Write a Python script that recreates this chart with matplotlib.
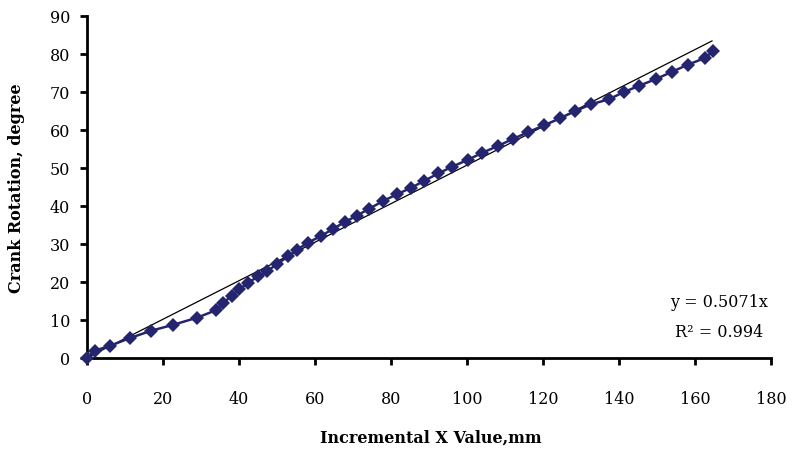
import matplotlib.pyplot as plt
import numpy as np

# valores
x_mm = [0, 2.1, 6.2, 11.3, 16.8, 22.7, 29.1, 34.1, 35.9, 38.1, 40.1, 42.4, 45.1, 47.4,
        50.1, 52.9, 55.4, 58.1, 61.5, 64.7, 67.8, 71.0, 74.2, 77.8, 81.5, 85.2, 88.8,
        92.4, 96.1, 100.2, 103.9, 108.0, 112.1, 116.1, 120.3, 124.4, 128.4, 132.6,
        137.2, 141.2, 145.3, 149.8, 154.0, 158.0, 162.6, 164.7]
crank_deg = [0, 1.9, 3.2, 5.2, 7.1, 8.7, 10.6, 12.6, 14.4, 16.4, 18.0, 19.7, 21.5, 22.8,
             24.7, 26.7, 28.5, 30.3, 32.0, 33.9, 35.7, 37.4, 39.2, 41.2, 43.0, 44.7, 46.6,
             48.5, 50.3, 52.1, 53.9, 55.7, 57.6, 59.4, 61.2, 63.0, 64.9, 66.7, 68.0,
             69.9, 71.6, 73.4, 75.3, 77.1, 78.9, 80.7]
slope = 0.5071
r2 = 0.994
x_ticks = list(range(0, 181, 20))
y_ticks = list(range(0, 91, 10))

plt.rcParams['font.family'] = ['DejaVu Serif']

fig = plt.figure(figsize=(7.96, 4.52), dpi=100)
ax = fig.add_axes([0.109, 0.206, 0.86, 0.757])

# linea de tendencia por el origen
xt = np.array([0, max(x_mm) - 0.3])
ax.plot(xt, slope * xt, color='black', lw=0.9, zorder=2)

ax.plot(x_mm, crank_deg, color='#25256f', lw=1.8, marker='D', markersize=7.3,
        markeredgewidth=0, zorder=3, clip_on=False)

ax.set_xlim(0, 180)
ax.set_ylim(0, 90)
ax.set_xticks(x_ticks)
ax.set_yticks(y_ticks)

for side in ['top', 'right']:
    ax.spines[side].set_visible(False)
for side in ['left', 'bottom']:
    ax.spines[side].set_linewidth(2)
ax.tick_params(axis='both', direction='out', length=5, width=2, labelsize=11.5)
ax.tick_params(axis='x', pad=18)
ax.tick_params(axis='y', pad=7)

ax.set_xlabel('Incremental X Value,mm', fontsize=11.5, fontweight='bold')
ax.set_ylabel('Crank Rotation, degree', fontsize=11.5, fontweight='bold')
ax.xaxis.set_label_coords(0.502, -0.208)
ax.yaxis.set_label_coords(-0.09, 0.5)

ax.text(0.924, 0.164, 'y = 0.5071x', transform=ax.transAxes, ha='center', va='center',
        fontsize=11.5)
ax.text(0.924, 0.076, 'R² = 0.994', transform=ax.transAxes, ha='center', va='center',
        fontsize=11.5)

fig.savefig('out.png', dpi=100)
